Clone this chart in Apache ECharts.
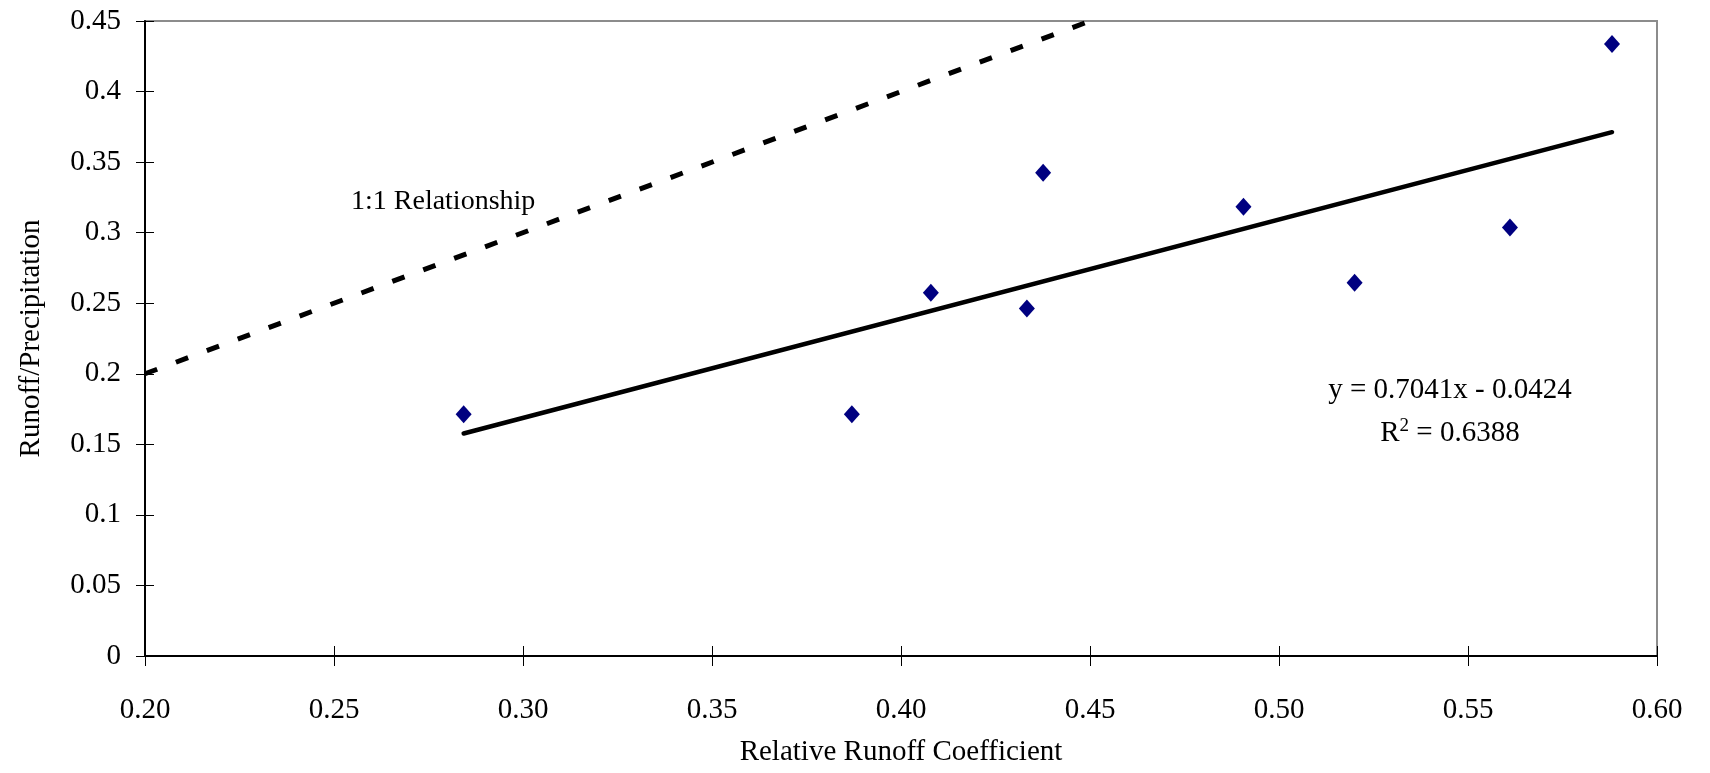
<!DOCTYPE html>
<html>
<head>
<meta charset="utf-8">
<script src="https://cdn.jsdelivr.net/npm/echarts@6/dist/echarts.min.js"></script>
<style>
html,body{margin:0;padding:0;background:#fff;}
#chart{width:1710px;height:773px;}
</style>
</head>
<body>
<div id="chart"></div>
<script>
// Observed data
var runoffCoef   = [0.2843, 0.3870, 0.4079, 0.4333, 0.4376, 0.4906, 0.5200, 0.5611, 0.5881];
var runoffPrecip = [0.1714, 0.1714, 0.2574, 0.2463, 0.3425, 0.3183, 0.2645, 0.3037, 0.4337];
// Linear trend line endpoints
var trendX = [0.2843, 0.5881];
var trendY = [0.1577, 0.3712];
// 1:1 relationship line endpoints
var oneToOneX = [0.20, 0.45];
var oneToOneY = [0.20, 0.45];
// Axis ticks
var xTicks = ['0.20','0.25','0.30','0.35','0.40','0.45','0.50','0.55','0.60'];
var yTicks = ['0','0.05','0.1','0.15','0.2','0.25','0.3','0.35','0.4','0.45'];
var eqText = 'y = 0.7041x - 0.0424';
var r2Value = '0.6388';
var oneToOneLabel = '1:1 Relationship';

var FONT = 'Liberation Serif';
var chart = echarts.init(document.getElementById('chart'));

function zip(a, b){ return a.map(function(v,i){ return [v, b[i]]; }); }

var xMin = parseFloat(xTicks[0]), xMax = parseFloat(xTicks[xTicks.length-1]);
var yMin = parseFloat(yTicks[0]), yMax = parseFloat(yTicks[yTicks.length-1]);

var option = {
  backgroundColor: '#fff',
  animation: false,
  grid: { left: 145, right: 53, top: 21, bottom: 117, show: true, borderColor: '#8c8c8c', borderWidth: 2, backgroundColor: 'transparent' },
  xAxis: [{
    type: 'value', min: xMin, max: xMax, interval: 0.05, position: 'bottom',
    name: 'Relative Runoff Coefficient', nameLocation: 'middle', nameGap: 82,
    nameTextStyle: { fontFamily: FONT, fontSize: 29, color: '#000' },
    axisLine: { show: true, onZero: false, lineStyle: { color: '#000', width: 2 } },
    axisTick: { show: true, length: 10, lineStyle: { color: '#000', width: 1 } },
    axisLabel: { margin: 40, fontFamily: FONT, fontSize: 29, color: '#000',
      formatter: function(v){ return v.toFixed(2); } },
    splitLine: { show: false }
  },{
    type: 'value', min: xMin, max: xMax, interval: 0.05, position: 'bottom',
    axisLine: { show: false },
    axisTick: { show: true, inside: true, length: 10, lineStyle: { color: '#000', width: 1 } },
    axisLabel: { show: false }, splitLine: { show: false }
  }],
  yAxis: [{
    type: 'value', min: yMin, max: yMax, interval: 0.05, position: 'left',
    name: 'Runoff/Precipitation', nameLocation: 'middle', nameGap: 99,
    nameTextStyle: { fontFamily: FONT, fontSize: 29, color: '#000' },
    axisLine: { show: true, onZero: false, lineStyle: { color: '#000', width: 2 } },
    axisTick: { show: true, length: 9, lineStyle: { color: '#000', width: 1 } },
    axisLabel: { margin: 24, fontFamily: FONT, fontSize: 29, color: '#000',
      formatter: function(v){ return String(parseFloat(v.toFixed(2))); } },
    splitLine: { show: false }
  },{
    type: 'value', min: yMin, max: yMax, interval: 0.05, position: 'left',
    axisLine: { show: false },
    axisTick: { show: true, inside: true, length: 9, lineStyle: { color: '#000', width: 1 } },
    axisLabel: { show: false }, splitLine: { show: false }
  }],
  series: [
    {
      type: 'line', name: '1:1', data: zip(oneToOneX, oneToOneY), showSymbol: false, symbol: 'none',
      lineStyle: { color: '#000', width: 5, type: [13, 20], cap: 'butt' }, z: 2
    },
    {
      type: 'line', name: 'trend', data: zip(trendX, trendY), showSymbol: false, symbol: 'none',
      lineStyle: { color: '#000', width: 4.5, cap: 'round' }, z: 3
    },
    {
      type: 'scatter', name: 'obs', data: zip(runoffCoef, runoffPrecip), symbol: 'diamond',
      symbolSize: [16, 18], itemStyle: { color: '#000080', opacity: 1 }, z: 4
    }
  ],
  graphic: [
    { type: 'text', left: 351, top: 188, style: { text: oneToOneLabel, font: '28px "Liberation Serif"', fill: '#000' } },
    { type: 'text', z: 10, style: { x: 1450, y: 390, text: eqText, textAlign: 'center', textVerticalAlign: 'middle', font: '29px "Liberation Serif"', fill: '#000' } },
    { type: 'text', z: 10, style: { x: 1450, y: 433, textAlign: 'center', textVerticalAlign: 'middle',
        text: '{r|R}{s|2}{r| = ' + r2Value + '}',
        rich: { r: { fontFamily: FONT, fontSize: 29, fill: '#000', color: '#000' },
                s: { fontFamily: FONT, fontSize: 19, fill: '#000', color: '#000', verticalAlign: 'top', padding: [0,0,14,0] } } } }
  ]
};
chart.setOption(option);
</script>
</body>
</html>
